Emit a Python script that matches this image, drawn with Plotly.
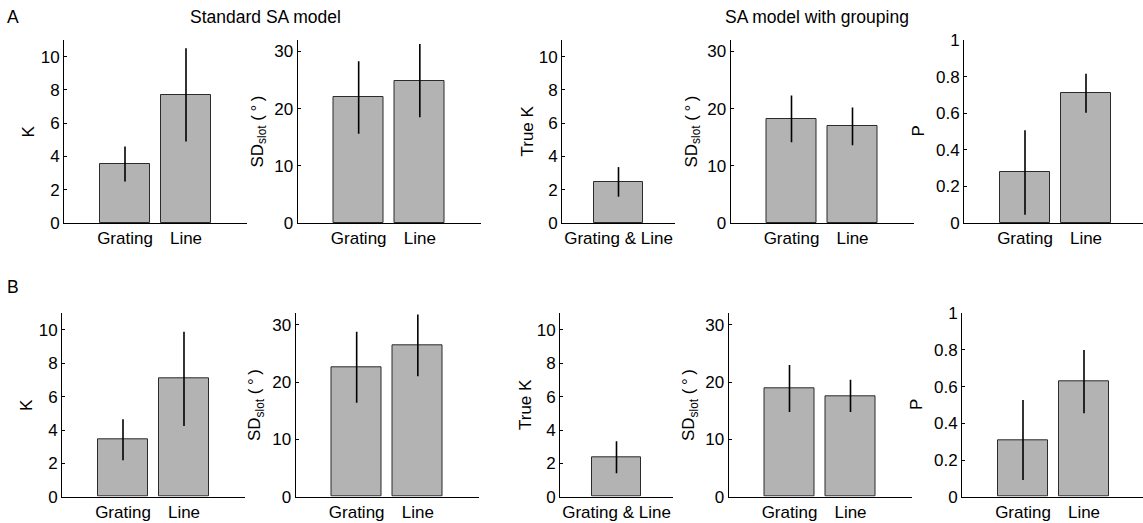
import plotly.graph_objects as go

# ---------------- data ----------------
cats_two = ["Grating", "Line"]
cats_one = ["Grating & Line"]

# Row A: standard SA model
a_k = [3.57, 7.7]
a_k_hi = [4.6, 10.5]
a_k_lo = [2.5, 4.9]
a_sd = [22.0, 24.9]
a_sd_hi = [28.3, 31.3]
a_sd_lo = [15.6, 18.5]
# Row A: SA model with grouping
a_truek = [2.45]
a_truek_hi = [3.36]
a_truek_lo = [1.58]
a_gsd = [18.2, 16.9]
a_gsd_hi = [22.3, 20.2]
a_gsd_lo = [14.1, 13.6]
a_p = [0.277, 0.708]
a_p_hi = [0.507, 0.816]
a_p_lo = [0.045, 0.603]

# Row B: standard SA model
b_k = [3.43, 7.08]
b_k_hi = [4.64, 9.9]
b_k_lo = [2.19, 4.24]
b_sd = [22.6, 26.4]
b_sd_hi = [28.8, 31.8]
b_sd_lo = [16.4, 21.0]
# Row B: SA model with grouping
b_truek = [2.35]
b_truek_hi = [3.33]
b_truek_lo = [1.4]
b_gsd = [18.97, 17.6]
b_gsd_hi = [23.0, 20.4]
b_gsd_lo = [14.8, 14.8]
b_p = [0.309, 0.627]
b_p_hi = [0.527, 0.80]
b_p_lo = [0.091, 0.455]

k_ticks = [0, 2, 4, 6, 8, 10]
sd_ticks = [0, 10, 20, 30]
p_ticks = [0, 0.2, 0.4, 0.6, 0.8, 1]
p_ticktext = ["0", "0.2", "0.4", "0.6", "0.8", "1"]

# ---------------- layout helpers ----------------
W, H = 1143, 523
FONT = "Liberation Sans, Arial, Helvetica, sans-serif"
FS = 17
BAR_FILL = "#b3b3b3"
BAR_EDGE = "#2b2b2b"
SD_TITLE = "SD<sub>slot</sub> (\u2009°\u2009)"

fig = go.Figure()

rowA = dict(top=40, bottom=223, shift=0)
rowB = dict(top=313.3, bottom=496.7, shift=-2)

def xdom(x0, x1):
    return [max(0.0, x0 / W), min(1.0, x1 / W)]

def ydom(top, bottom):
    return [1 - bottom / H, 1 - top / H]

panel_specs = [
    # key, yrange, ticks, ticktext, ytitle, x0, x1, xrange, bar width, y-title x
    ("k", [0, 11], k_ticks, None, "K", 64, 247, [0, 3], 0.82, 28),
    ("sd", [0, 32], sd_ticks, None, SD_TITLE, 297.5, 481, [0, 3], 0.82, 258),
    ("truek", [0, 11], k_ticks, None, "True K", 562, 675, [0, 2], 0.87, 527),
    ("gsd", [0, 32], sd_ticks, None, SD_TITLE, 730.5, 913.5, [0, 3], 0.82, 692),
    ("p", [0, 1], p_ticks, p_ticktext, "P", 964, None, None, 0.82, 918),
]

row_data = {
    "A": {
        "k": (a_k, a_k_hi, a_k_lo, cats_two),
        "sd": (a_sd, a_sd_hi, a_sd_lo, cats_two),
        "truek": (a_truek, a_truek_hi, a_truek_lo, cats_one),
        "gsd": (a_gsd, a_gsd_hi, a_gsd_lo, cats_two),
        "p": (a_p, a_p_hi, a_p_lo, cats_two),
    },
    "B": {
        "k": (b_k, b_k_hi, b_k_lo, cats_two),
        "sd": (b_sd, b_sd_hi, b_sd_lo, cats_two),
        "truek": (b_truek, b_truek_hi, b_truek_lo, cats_one),
        "gsd": (b_gsd, b_gsd_hi, b_gsd_lo, cats_two),
        "p": (b_p, b_p_hi, b_p_lo, cats_two),
    },
}

annotations = []
idx = 0
for row_name, row in (("A", rowA), ("B", rowB)):
    for key, yr, yt, ytt, ytitle, x0, x1, xr, bw, tx in panel_specs:
        idx += 1
        vals, hi, lo, cats = row_data[row_name][key]
        sx = row["shift"]
        left = x0 + sx
        if x1 is None:
            right = W
            xr = [0, (W - left) / 61.0]
        else:
            right = x1 + sx
        xpos = list(range(1, len(vals) + 1))
        suffix = "" if idx == 1 else str(idx)
        fig.add_trace(go.Bar(
            x=xpos, y=vals, width=bw,
            marker=dict(color=BAR_FILL, line=dict(color=BAR_EDGE, width=1)),
            error_y=dict(type="data", symmetric=False,
                         array=[h - v for h, v in zip(hi, vals)],
                         arrayminus=[v - l for v, l in zip(vals, lo)],
                         width=0, thickness=1.6, color="black"),
            xaxis="x" + suffix, yaxis="y" + suffix,
            showlegend=False, hoverinfo="skip",
        ))
        fig.layout["xaxis" + suffix] = dict(
            domain=xdom(left, right), range=xr, anchor="y" + suffix,
            tickmode="array", tickvals=xpos, ticktext=cats,
            ticks="", showline=True, linecolor="black", linewidth=1,
            showgrid=False, zeroline=False, fixedrange=True, automargin=False,
            tickfont=dict(family=FONT, size=FS, color="black"),
        )
        yax = dict(
            domain=ydom(row["top"], row["bottom"]), range=yr, anchor="x" + suffix,
            tickmode="array", tickvals=yt,
            ticks="inside", ticklen=3, tickwidth=1, tickcolor="black",
            showline=True, linecolor="black", linewidth=1,
            showgrid=False, zeroline=False, fixedrange=True, automargin=False,
            tickfont=dict(family=FONT, size=FS, color="black"),
        )
        if ytt is not None:
            yax["ticktext"] = ytt
        fig.layout["yaxis" + suffix] = yax
        mid_y = (row["top"] + row["bottom"]) / 2
        annotations.append(dict(
            text=ytitle, x=(tx + sx) / W, y=1 - mid_y / H,
            xref="paper", yref="paper", xanchor="center", yanchor="middle",
            textangle=-90, showarrow=False,
            font=dict(family=FONT, size=FS, color="black"),
        ))

# panel letters and model titles
annotations += [
    dict(text="A", x=13 / W, y=1 - 17 / H, xref="paper", yref="paper",
         xanchor="center", yanchor="middle", showarrow=False,
         font=dict(family=FONT, size=17.5, color="black")),
    dict(text="B", x=13 / W, y=1 - 287 / H, xref="paper", yref="paper",
         xanchor="center", yanchor="middle", showarrow=False,
         font=dict(family=FONT, size=17.5, color="black")),
    dict(text="Standard SA model", x=265 / W, y=1 - 17 / H, xref="paper", yref="paper",
         xanchor="center", yanchor="middle", showarrow=False,
         font=dict(family=FONT, size=17.5, color="black")),
    dict(text="SA model with grouping", x=817 / W, y=1 - 17 / H, xref="paper", yref="paper",
         xanchor="center", yanchor="middle", showarrow=False,
         font=dict(family=FONT, size=17.5, color="black")),
]

fig.update_layout(
    width=W, height=H,
    margin=dict(l=0, r=0, t=0, b=0, autoexpand=False),
    paper_bgcolor="white", plot_bgcolor="white",
    bargap=0, annotations=annotations,
    font=dict(family=FONT, size=FS, color="black"),
)

fig.write_html("out.html", config={"displayModeBar": False})
